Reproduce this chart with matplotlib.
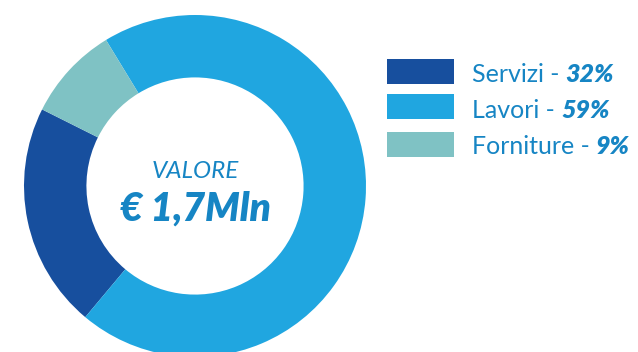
import matplotlib
matplotlib.use("Agg")
import matplotlib.pyplot as plt
from matplotlib.patches import Rectangle

# dati
categorie = ["Servizi", "Lavori", "Forniture"]
etichette_pct = ["32%", "59%", "9%"]
# ampiezza degli spicchi come disegnati nel riferimento
quote = [21.3, 69.8, 8.9]
colori = ["#174f9e", "#20a6e0", "#7fc2c4"]
titolo_centro = "VALORE"
valore_centro = "€ 1,7Mln"

BLU_TESTO = "#1685c4"
FONT = "Lato"

W, H = 638, 352
fig = plt.figure(figsize=(W / 100, H / 100), dpi=100)

# ciambella: centro (195,186) px, raggio 171 px
cx, cy, r = 195, 186, 171
ax = fig.add_axes([(cx - r) / W, (H - cy - r) / H, 2 * r / W, 2 * r / H])
ax.pie(quote, colors=colori, startangle=153.4, counterclock=True,
       radius=1.0, wedgeprops=dict(width=0.365, linewidth=0))
ax.set_xlim(-1, 1)
ax.set_ylim(-1, 1)
ax.set_aspect("equal")
ax.axis("off")

# testo al centro
fig.text(cx / W, 1 - 178 / H, titolo_centro, ha="center", va="baseline",
         fontsize=17.5, style="italic", color=BLU_TESTO, family=FONT)
fig.text(cx / W, 1 - 221 / H, valore_centro, ha="center", va="baseline",
         fontsize=28, style="italic", weight="heavy", color=BLU_TESTO, family=FONT)

# legenda fatta a mano
rect_top = [59, 94, 132]
baseline = [82, 118, 154]
for i, cat in enumerate(categorie):
    fig.patches.append(Rectangle((387 / W, 1 - (rect_top[i] + 24.5) / H), 67 / W, 24.5 / H,
                                 transform=fig.transFigure, color=colori[i], lw=0))
    t1 = fig.text(472 / W, 1 - baseline[i] / H, cat + " - ", ha="left", va="baseline",
                  fontsize=18, color=BLU_TESTO, family=FONT)
    plt.annotate(etichette_pct[i], xy=(1, 0), xycoords=t1, ha="left", va="bottom",
                 fontsize=18, style="italic", weight="heavy", color=BLU_TESTO,
                 family=FONT, annotation_clip=False)

fig.savefig("out.png", dpi=100)
